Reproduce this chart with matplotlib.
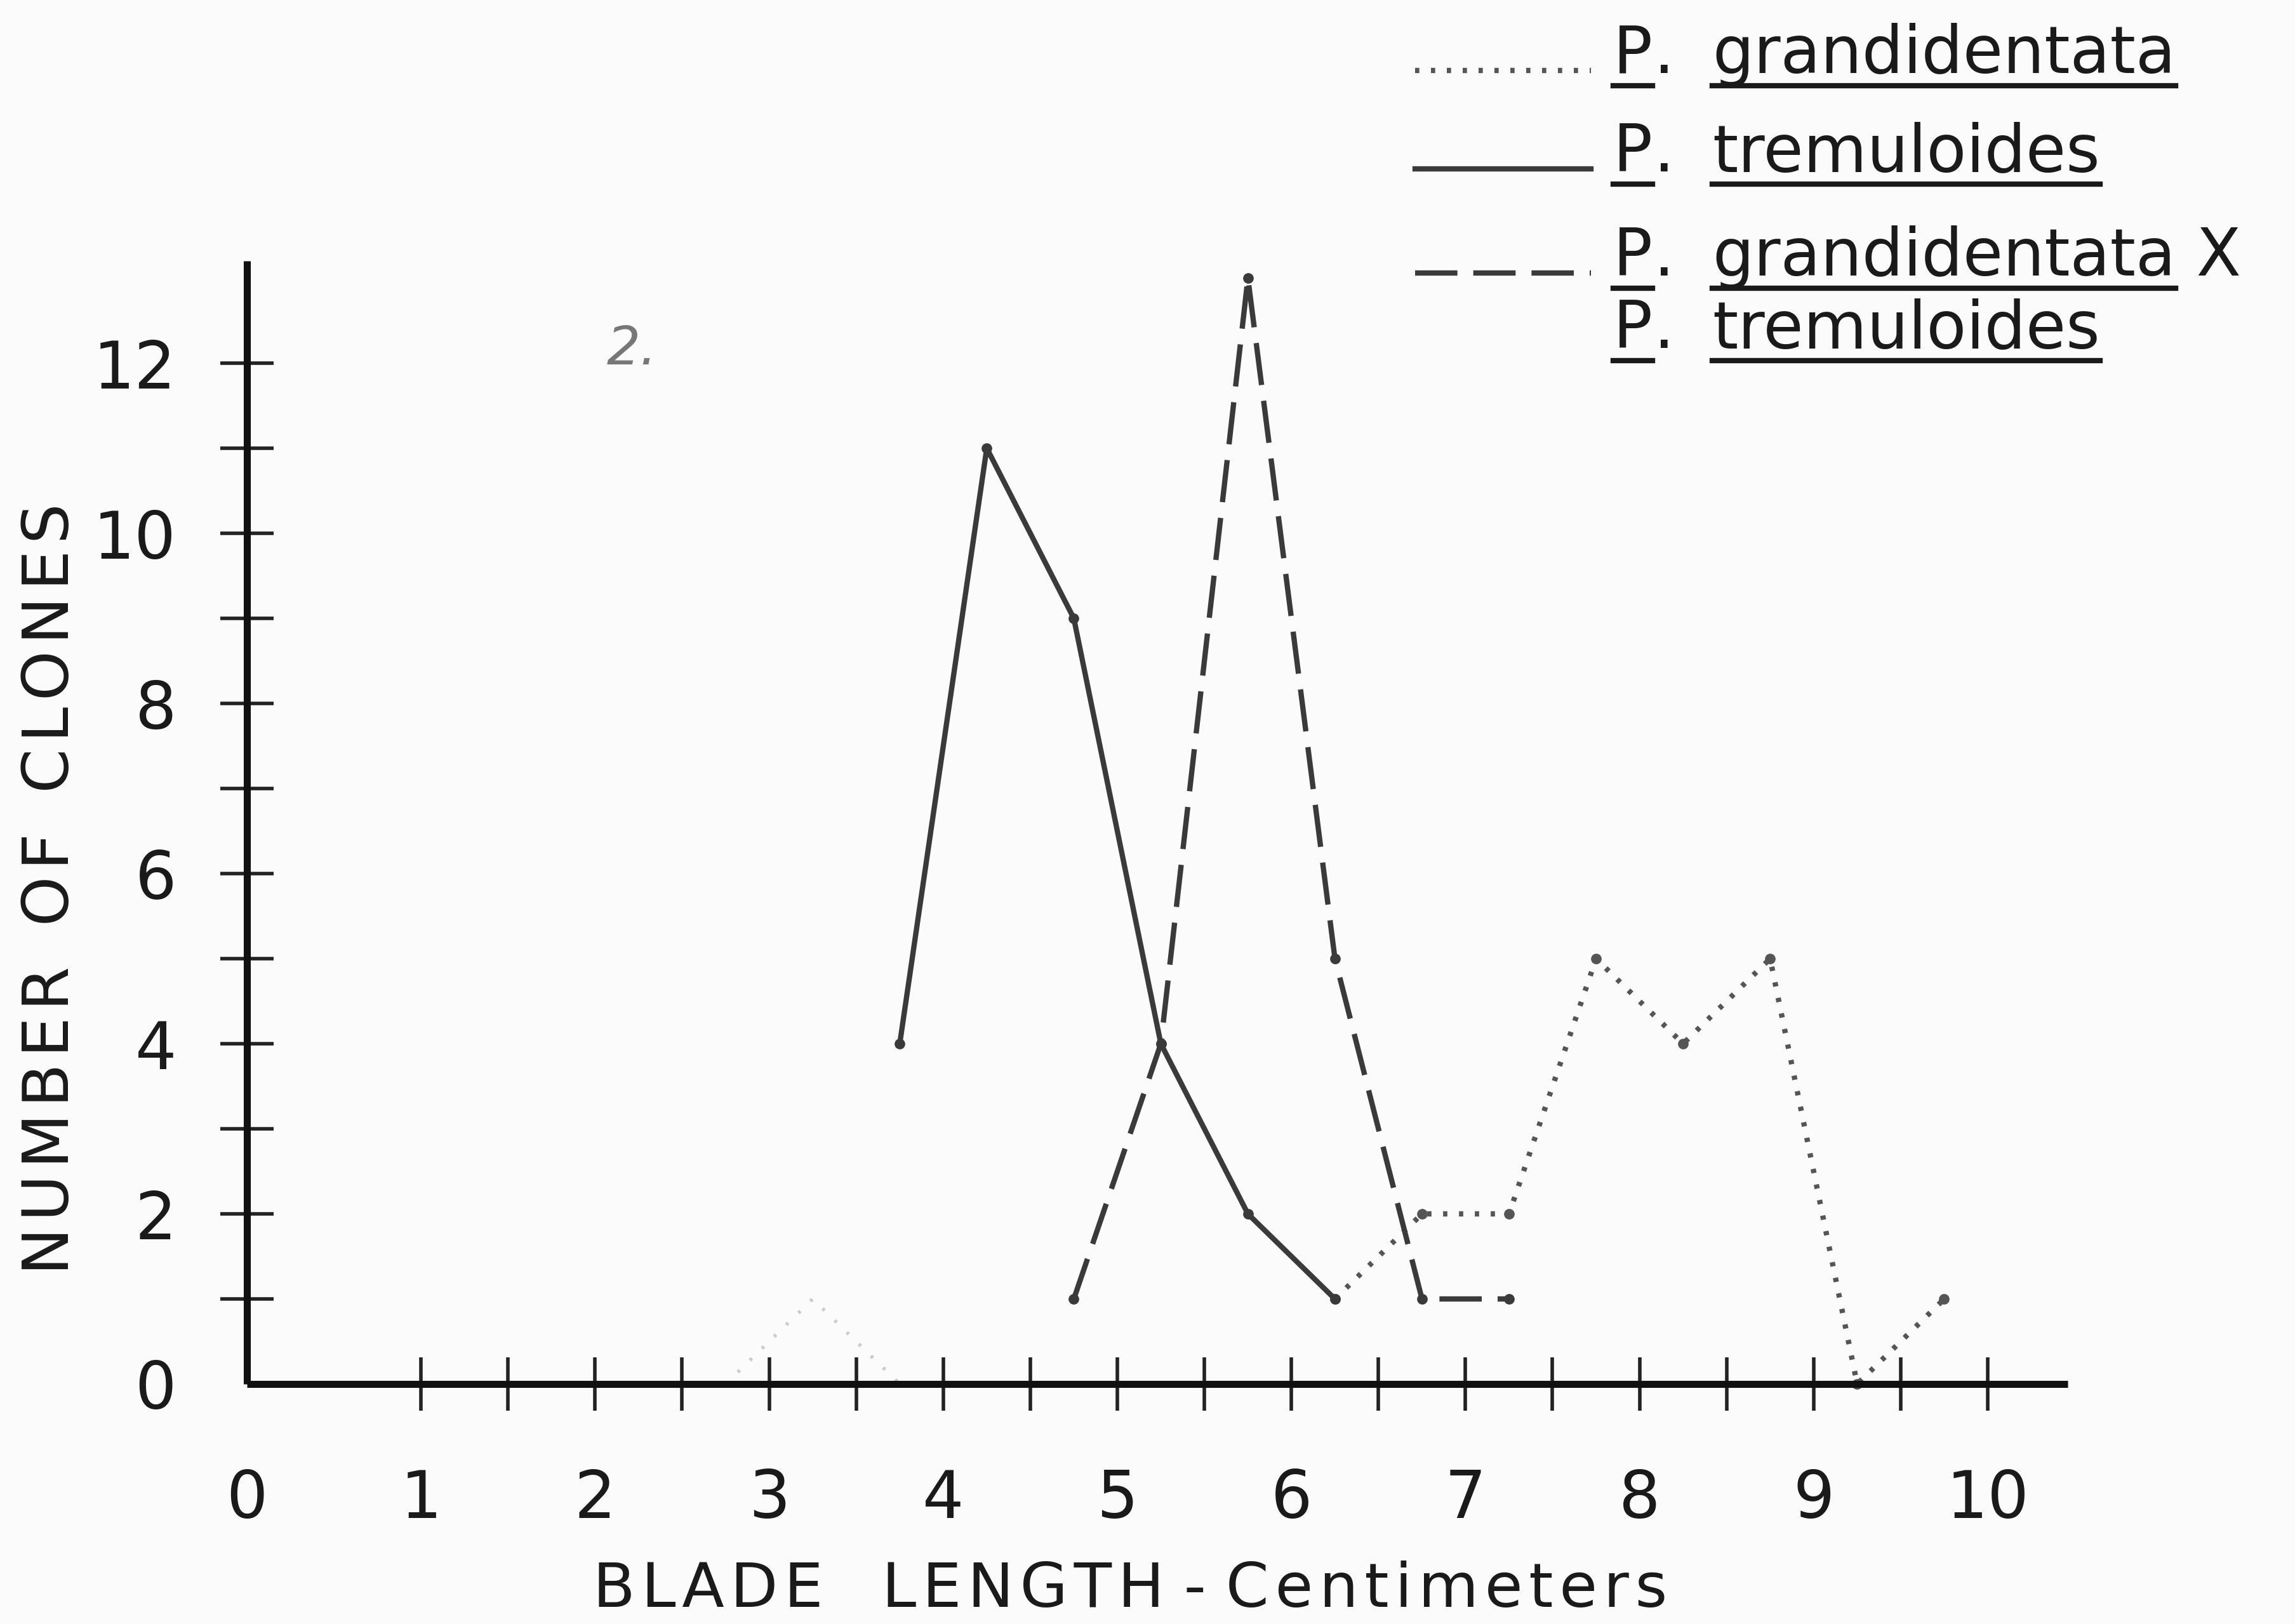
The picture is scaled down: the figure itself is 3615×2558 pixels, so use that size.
import matplotlib
matplotlib.use("Agg")
import matplotlib.pyplot as plt
from matplotlib.lines import Line2D
import numpy as np

plt.rcParams['font.family'] = ['DejaVu Sans']

# ---- data ----
tremuloides_x = [3.75, 4.25, 4.75, 5.25, 5.75, 6.25]
tremuloides_y = [4, 11, 9, 4, 2, 1]

hybrid_x = [4.75, 5.25, 5.75, 6.25, 6.75, 7.25]
hybrid_y = [1, 4, 13, 5, 1, 1]

grandidentata_x = [6.25, 6.75, 7.25, 7.75, 8.25, 8.75, 9.25, 9.75]
grandidentata_y = [1, 2, 2, 5, 4, 5, 0, 1]

faint_x = [2.75, 3.25, 3.75]
faint_y = [0, 1, 0]

x_labels = ['0', '1', '2', '3', '4', '5', '6', '7', '8', '9', '10']
y_labels = ['0', '2', '4', '6', '8', '10', '12']

W, H = 3615, 2558
fig = plt.figure(figsize=(W / 100, H / 100), dpi=100)
fig.patch.set_facecolor('#fbfbfb')

x0, y0 = 389, 2180
px_x, px_y = 274.2, 134.0
xmax, ymax = 10.46, 13.2
ax = fig.add_axes([x0 / W, 1 - y0 / H, xmax * px_x / W, ymax * px_y / H])
ax.set_xlim(0, xmax)
ax.set_ylim(0, ymax)
ax.patch.set_alpha(0)
for s in ['top', 'right']:
    ax.spines[s].set_visible(False)
for s in ['left', 'bottom']:
    ax.spines[s].set_linewidth(8)
    ax.spines[s].set_color('#111111')
    ax.spines[s].set_capstyle('butt')

ink = '#3a3a3a'
ax.plot(tremuloides_x, tremuloides_y, '-', color=ink, lw=6, marker='o', ms=11,
        clip_on=False, zorder=3)
ax.plot(hybrid_x, hybrid_y, '--', color=ink, lw=6, dashes=(8, 3), marker='o', ms=11,
        clip_on=False, zorder=3)
ax.plot(grandidentata_x, grandidentata_y, ':', color='#555555', lw=6, dashes=(0.8, 2.2),
        marker='o', ms=11, clip_on=False, zorder=2)
ax.plot(faint_x, faint_y, ':', color='#cccccc', lw=4, dashes=(0.8, 4),
        clip_on=False, zorder=1)

# ticks
ax.xaxis.remove_overlapping_locs = False
ax.yaxis.remove_overlapping_locs = False
ax.set_xticks(np.arange(0, 11, 1))
ax.set_xticklabels(x_labels)
ax.set_xticks(np.arange(1, 10.01, 0.5), minor=True)
ax.set_yticks(np.arange(0, 13, 2))
ax.set_yticklabels(y_labels)
ax.set_yticks(np.arange(1, 12.01, 1), minor=True)
ax.tick_params(axis='x', which='major', length=0, pad=95, labelsize=74, labelcolor='#1a1a1a')
ax.tick_params(axis='y', which='major', length=0, pad=80, labelsize=74, labelcolor='#1a1a1a')
ax.tick_params(axis='both', which='minor', direction='inout', length=60, width=4, color='#222222')


def spaced(s, sep='\u200a'):
    return sep.join(s)


fig.text(1780 / W, 1 - 2505 / H, spaced('BLADE') + '   ' + spaced('LENGTH') + ' - ' + spaced('Centimeters'),
         ha='center', va='center', fontsize=70, color='#1a1a1a')
fig.text(81 / W, 1 - 1400 / H, spaced('NUMBER') + '  ' + spaced('OF') + '  ' + spaced('CLONES'),
         rotation=90, ha='center', va='center', fontsize=72, color='#1a1a1a')

fig.text(995 / W, 1 - 550 / H, '2.', ha='center', va='center', fontsize=60,
         color='#777777', style='italic')

# legend (manual)
rows = [
    (115, ':', 'grandidentata', ''),
    (270, '-', 'tremuloides', ''),
    (434, '--', 'grandidentata', ' X'),
]
fig.canvas.draw()
renderer = fig.canvas.get_renderer()
FS = 74


def ul_text(x, ybase, s, fs=FS):
    t = fig.text(x / W, 1 - ybase / H, s, ha='left', va='baseline', fontsize=fs, color='#1a1a1a')
    bb = t.get_window_extent(renderer=renderer)
    yl = 1 - (ybase + 20) / H
    fig.add_artist(Line2D([bb.x0 / W, bb.x1 / W], [yl, yl], transform=fig.transFigure,
                          color='#1a1a1a', lw=6))
    return bb


for yb, ls, word, tail in rows:
    kw = dict(color=ink, lw=6)
    if ls == ':':
        kw.update(linestyle=(0, (0.8, 2.2)), color='#555555')
    elif ls == '--':
        kw.update(linestyle=(0, (8, 3)))
    fig.add_artist(Line2D([2229 / W, 2506 / W], [1 - (yb - 4) / H, 1 - (yb - 4) / H],
                          transform=fig.transFigure, **kw))
    ul_text(2541, yb, 'P')
    fig.text(2605 / W, 1 - yb / H, '.', ha='left', va='baseline', fontsize=FS, color='#1a1a1a')
    bb = ul_text(2697, yb, word)
    if tail:
        fig.text(bb.x1 / W, 1 - yb / H, tail, ha='left', va='baseline', fontsize=FS, color='#1a1a1a')

ul_text(2541, 548, 'P')
fig.text(2605 / W, 1 - 548 / H, '.', ha='left', va='baseline', fontsize=FS, color='#1a1a1a')
ul_text(2697, 548, 'tremuloides')

fig.savefig('out.png', dpi=100, facecolor=fig.get_facecolor())
